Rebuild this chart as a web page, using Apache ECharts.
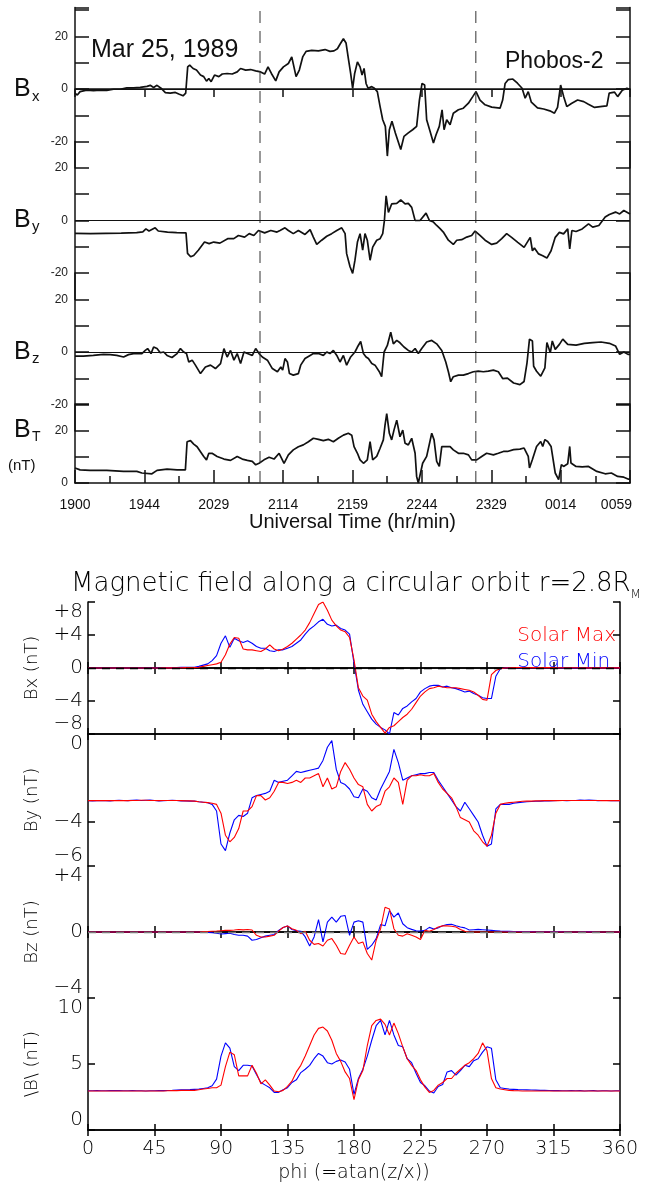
<!DOCTYPE html>
<html>
<head>
<meta charset="utf-8">
<title>Phobos-2 magnetic field / model along circular orbit</title>
<script src="https://cdn.jsdelivr.net/npm/echarts@6.0.0/dist/echarts.min.js"></script>
<style>
  html, body { margin: 0; padding: 0; background: #fff; }
  #main { width: 651px; height: 1188px; }
</style>
</head>
<body>
<div id="main"></div>
<script>
// ---------- top figure: Phobos-2 data, Mar 25 1989 (t = minutes after 19:00) ----------
var timeTicks = [0, 45, 90, 135, 180, 225, 270, 315, 360];
var timeLabels = ['1900', '1944', '2029', '2114', '2159', '2244', '2329', '0014', '0059'];

var bxObs = [[0,-1.6],[1.5,-2.3],[3.3,-1.0],[7.6,-0.4],[12,-0.6],[16.3,-0.4],[20.6,-0.5],[25,-0.1],[29.3,-0.1],
  [33.6,0.4],[38,0.4],[42.3,0.6],[46.7,1.0],[48.8,1.4],[51,0.6],[53.2,1.4],[55.8,0.3],[58.6,-1.4],[61.8,-1.6],
  [65.1,-1.3],[67.3,-1.9],[70.1,-2.6],[71.8,-1.6],[73.1,8.4],[74.4,9.1],[76.6,7.8],[78.8,7.2],[81.4,5.3],[83.5,4.7],
  [85.3,3.0],[86.8,4.0],[88.3,2.8],[90.5,5.3],[93.3,4.7],[95.5,5.7],[98.7,5.9],[102,5.7],[105.2,6.5],[107.4,7.8],
  [110.7,7.2],[113.9,7.4],[117.2,6.9],[120.4,6.5],[123,5.7],[125.2,8.4],[127.4,5.9],[130.2,3.1],[132.4,6.5],
  [135.2,8.4],[138.4,9.7],[140.6,12.2],[143.4,4.7],[145.5,7.2],[147.7,12.2],[149.9,14.3],[153.5,14.7],[157.9,14.5],
  [162.2,15],[165.4,14.3],[168,14.5],[170.2,15.3],[171.9,17],[174.1,19.1],[175.8,17.5],[177.5,10.9],[178.8,5.9],
  [180.1,0.2],[181.4,5.9],[183.2,10.3],[184.9,8.4],[186.2,5.3],[187.5,7.8],[188.8,2.1],[190.1,0.3],[192.5,0.9],
  [194.2,0.3],[196.1,-1.0],[197.9,-6.7],[199.6,-11.7],[201.3,-14.2],[202.6,-25.5],[203.9,-15.5],[205.6,-12.3],
  [207.8,-16.7],[211.3,-23],[213.4,-18],[216.2,-16.7],[219,-15.5],[221.6,-14.2],[223.4,-4.2],[225.1,2.1],[226.8,1.5],
  [228.1,-11.7],[230.3,-16.1],[232.5,-20.5],[234.2,-17.4],[236.3,-14.2],[238.1,-7.9],[239.4,-15.5],[241.1,-11.7],
  [243.3,-13.6],[245.4,-9.2],[248.7,-7.9],[251.9,-7.3],[255.2,-5.4],[258,-2.9],[260.1,-1.0],[262.7,-4.2],[266,-6],
  [270.3,-6.9],[275.7,-7.3],[277.4,-4.2],[279,2.1],[281.1,3.6],[284,3.8],[287,2.2],[290,0.3],[292,-3.5],[294,-1],
  [296,-5],[300,-7.2],[304,-7.6],[308,-8.3],[311,-9.2],[313,-7],[315,1.5],[317,-2.9],[319,-6.7],[322,-5.5],[326,-4.2],
  [330,-4.8],[333,-5.8],[337,-7],[342,-6.6],[345,-6.4],[346.5,-1.6],[350,-1.2],[352,-2.9],[355,-0.5],[358,0.3],[360,-0.2]];

var byObs = [[0,-4.9],[10,-5.0],[20,-4.9],[30,-4.8],[40,-4.6],[44,-4.3],[46,-3.2],[48,-4.0],[52,-2.8],[54,-4.0],
  [60,-4.4],[66,-4.6],[72,-4.7],[73,-12.5],[75,-13.8],[77,-13.3],[80,-11.3],[84,-8.2],[87,-8.8],[90,-8.2],[94,-8.6],
  [99,-6.9],[103,-6.9],[106,-5.7],[110,-6.3],[113,-5.0],[116,-5.7],[119,-3.8],[123,-4.7],[127,-3.8],[131,-4.4],
  [133,-3.8],[136.2,-2.8],[138.4,-3.8],[141.6,-5.0],[144.9,-3.8],[149.2,-5.3],[152.5,-3.5],[154.6,-6.3],[156.8,-9.1],
  [160,-7.5],[163.3,-6.0],[166.5,-5.0],[169.8,-3.8],[173,-2.8],[175.2,-5.0],[176.2,-12.6],[178.4,-17.6],[180.1,-20.1],
  [181.6,-15.1],[183.2,-8.2],[184.9,-5.0],[186.6,-11.3],[188.1,-5.0],[189.6,-7.5],[191.4,-15.1],[193.1,-10.1],
  [195.7,-7.5],[197.9,-6.9],[199.6,-5.0],[200.7,0],[201.8,9.4],[203.3,3.1],[205.4,6.3],[208.7,6.5],[211.3,7.8],
  [214.1,6.3],[216.2,6.5],[218.4,5.0],[220.6,0],[223.8,0],[227.7,2.8],[229.9,0],[232.5,-0.6],[234.6,-1.9],
  [236.8,-3.1],[238.9,-4.4],[242.2,-7.5],[245.4,-9.1],[247.6,-7.5],[250.8,-7.3],[254.1,-6.3],[257.3,-5.7],
  [259.5,-4.0],[262.7,-5.7],[266,-7.5],[270.3,-9.1],[273.5,-8.6],[276.8,-6.9],[280,-5.0],[283.2,-6.4],[287.2,-8.3],
  [291.3,-10.2],[295.3,-6.4],[296.7,-11.5],[298,-10.5],[300.7,-12.7],[303.4,-13.4],[306.1,-14.3],[308.8,-11.5],
  [311.5,-6.4],[314.2,-4.5],[316.9,-5.1],[319.6,-3.2],[320.9,-10.8],[322.3,-3.8],[325,-4.2],[329,-3.2],[333.1,-1.3],
  [335.8,-2.5],[339.8,-1.9],[343.9,1.3],[346.6,2.3],[350.6,3.2],[353.3,2.5],[356,3.8],[360,2.5]];

var bzObs = [[0,-1.6],[5.4,-1.6],[11.9,-1.3],[18.4,-0.9],[22.8,-1.0],[27.1,-1.3],[31.5,-1.9],[34.7,-1.0],[38,-0.6],
  [43.4,-0.6],[45.6,0.6],[47.1,1.3],[49.3,-0.6],[51,1.9],[53.2,1.3],[55.3,-0.3],[57.5,0],[59.7,-1.3],[62.9,-2.1],
  [66.2,-0.6],[68.4,1.3],[70.5,0],[72.3,-0.6],[73.8,-3.8],[76,-3.1],[78.1,-5],[81.4,-8.2],[84.6,-5.7],[87.9,-5],
  [91.1,-6.3],[94.4,-4.4],[96.6,1.3],[98.7,-1.9],[100.9,0.6],[103.1,-3.1],[105.2,-0.6],[107.4,-4.4],[109.6,0],
  [111.8,-0.6],[115,-1.3],[117.2,1.3],[119.4,-0.6],[121.5,-1.9],[124.8,-3.1],[128,-6.3],[131.3,-7.5],[133.5,-5.7],
  [134.7,-6.9],[136.2,-2.5],[137.8,-3.8],[139.1,-8.2],[141.6,-8.8],[144.9,-8.2],[146.4,-5.0],[149.2,-2.5],
  [152.5,-1.3],[154.6,-0.6],[157.9,-0.6],[161.1,-1.3],[163.3,0],[165.4,-0.6],[167.6,0.6],[169.8,-1.3],[171.9,-3.8],
  [174.1,-1.3],[176.2,-5.0],[178.8,-1.9],[181.6,0],[183.2,1.9],[185.3,4.0],[187.1,-0.6],[188.8,-1.9],[190.3,-2.5],
  [192.5,-4.4],[194.6,-5.0],[197.4,-7.5],[198.9,-9.4],[200.5,0],[202.6,2.5],[204.8,7.5],[206.5,3.1],[208.7,4.4],
  [210.8,3.5],[213.4,1.9],[216.2,0.6],[218.4,0],[220.6,1.3],[222.7,-0.6],[224.9,1.3],[228.1,3.8],[231.4,4.4],
  [234.6,3.1],[237.9,0.6],[238.9,0],[240.5,-3.8],[242.2,-7.5],[243.7,-11.3],[245.4,-9.4],[248.7,-8.8],[251.9,-8.8],
  [255.2,-8.2],[258.4,-7.5],[261.6,-7.3],[264.9,-7.5],[268.1,-7.3],[271.4,-6.9],[274.6,-7.5],[277.4,-10.1],
  [280.5,-9.9],[284.5,-11.8],[288.6,-12.4],[291.3,-11.2],[293.2,-4.1],[294.8,4.9],[296.7,4.2],[297.5,-5.4],
  [299.4,-7.3],[302.1,-9.2],[304.8,-6],[306.1,3.6],[308.3,-0.3],[309.6,4.2],[311.5,1.0],[314.2,2.9],[316.4,4.9],
  [319.6,2.9],[325,2.6],[330.4,3.3],[335.8,3.6],[341.2,3.8],[346.6,3.3],[350.6,2.3],[353.3,-0.9],[356,0],
  [358.7,-0.9],[360,-0.9]];

var btObs = [[0,5.7],[3.3,5.0],[9.8,4.8],[20.6,4.8],[31.5,4.4],[40.1,4.4],[43.4,3.8],[49.9,3.5],[53.2,4.8],[59.7,5.3],
  [66.2,5.0],[71.6,5.0],[72.7,15.7],[74.9,16.1],[77,14.8],[79.2,13.8],[81.4,11.9],[83.5,10.1],[85.3,8.8],[86.8,11.3],
  [88.9,11.3],[92.2,10.1],[96.6,9.1],[100.9,8.6],[105.2,10.1],[108.5,9.1],[111.8,8.6],[115,8.2],[117.2,6.9],
  [119.4,7.5],[122.6,8.8],[125.9,9.8],[129.1,9.1],[132.4,11.3],[135.6,7.5],[138.4,10.7],[141.6,12.6],[144.9,13.8],
  [148.1,14.5],[151.4,15.7],[154.6,17],[157.9,16.6],[161.1,16.1],[164.3,16.6],[167.6,15.7],[170.8,17],[174.1,18.2],
  [177.3,18.9],[179.5,18.2],[181,13.8],[183.2,11.3],[184.9,8.8],[187.1,7.5],[189.6,8.8],[191.4,15.7],[193.1,8.8],
  [195.7,10.1],[197.9,13.2],[200,16.4],[201.1,22],[202.2,26.4],[203.9,18.9],[205.4,16.4],[206.9,20.1],[208.7,23.9],
  [210.8,17.6],[212.6,20.1],[214.1,15.1],[216.2,14.5],[218.4,17],[220.6,11.3],[221.6,2.5],[222.7,0],[223.8,0.6],
  [225.5,7.5],[228.1,10.1],[231.4,18.9],[232.9,16.4],[234.6,8.2],[236.3,6.3],[237.9,13.8],[240,13.8],[243.3,13.8],
  [245.4,12.6],[248.7,11.3],[251.9,11.3],[255.2,10.7],[257.3,8.8],[260.6,8.8],[263.8,10.1],[267,11.3],[271.4,10.7],
  [274.6,11.3],[277.9,12],[280.5,12],[284.5,12.7],[288.6,12.9],[291.3,13.3],[294,10.1],[294.8,5.7],[296.7,8.9],
  [299.4,13.9],[302.1,15.8],[303.4,13.9],[304.8,16.5],[306.6,15.8],[308.8,13.9],[311.5,3.8],[313.7,1.3],[315.5,7],
  [316.9,6.3],[319.6,7.3],[320.9,13.9],[321.7,7.6],[325,6.3],[329,6.1],[333.1,6.3],[338.5,4.4],[343.9,3.5],
  [347.9,3.8],[352,2.5],[356,2.2],[358.7,1.5],[360,1.5]];

// boundary crossings marked by the dashed verticals (min after 19:00)
var crossings = [120, 260];

// ---------- bottom figure: model along circular orbit r = 2.8 RM ----------
var phi = [0,3,6,9,12,15,18,21,24,27,
  30,33,36,39,42,45,48,51,54,57,
  60,63,66,69,72,75,78,81,84,87,
  90,93,96,99,102,105,108,111,114,117,
  120,123,126,129,132,135,138,141,144,147,
  150,153,156,159,162,165,168,171,174,177,
  180,183,186,189,192,195,198,201,204,207,
  210,213,216,219,222,225,228,231,234,237,
  240,243,246,249,252,255,258,261,264,267,
  270,273,276,279,282,285,288,291,294,297,
  300,303,306,309,312,315,318,321,324,327,
  330,333,336,339,342,345,348,351,354,357,
  360];

// Solar Min (blue) / Solar Max (red)
var bxMin = [0,0,0,0,0,0,0,0,0,0,
  0,0,0,0,0.02,0,0.02,0.03,0.05,0.05,
  0.06,0.08,0.08,0.1,0.1,0.2,0.35,0.5,0.9,1.5,
  3.0,3.9,2.5,3.6,3.3,3.1,3.3,3.0,2.6,2.4,
  2.4,2.1,2.0,2.2,2.2,2.4,2.6,3.0,3.4,4.1,
  4.7,5.1,5.6,5.9,5.3,5.1,5.2,4.8,4.6,4.1,
  0.6,-2.7,-4.4,-5.3,-6.2,-6.8,-7.2,-7.5,-8.0,-5.4,
  -5.7,-4.9,-4.6,-4.1,-3.7,-2.9,-2.5,-2.2,-2.1,-2.1,
  -2.3,-2.2,-2.4,-2.5,-2.7,-2.9,-2.8,-3.1,-3.3,-3.6,
  -3.7,-3.7,-1.0,-0.1,0,0.05,0.05,0.06,0.05,0.05,
  0.04,0.05,0.04,0.04,0.03,0.03,0.03,0.02,0.02,0.02,
  0.02,0.02,0.02,0.01,0.01,0.01,0.01,0.01,0.01,0.01,
  0.01];
var bxMax = [0,0,0,0,0,0,0,0,0,0,
  0,0,0,0,0,0,0,0.01,0.02,0.02,
  0.03,0.03,0.04,0.04,0.05,0.1,0.2,0.3,0.4,0.5,
  0.7,1.6,2.9,3.7,3.6,2.3,2.2,2.2,2.1,2.0,
  2.3,2.8,2.3,2.1,2.3,2.6,3.0,3.5,4.0,4.6,
  5.5,6.6,7.7,8.0,7.0,5.8,5.1,4.6,4.4,3.7,
  1.0,-2.4,-3.4,-3.9,-5.6,-6.5,-7.2,-7.9,-7.2,-7.0,
  -6.5,-6.0,-5.6,-5.0,-4.2,-3.4,-2.9,-2.5,-2.4,-2.2,
  -2.3,-2.4,-2.4,-2.4,-2.5,-2.6,-2.7,-2.9,-3.3,-3.8,
  -3.9,-0.8,-0.3,-0.1,0,0.03,0.05,0.06,0.06,0.05,
  0.05,0.05,0.04,0.04,0.04,0.04,0.03,0.03,0.03,0.03,
  0.03,0.03,0.02,0.02,0.02,0.02,0.02,0.02,0.02,0.02,
  0.02];

var byMin = [-3.03,-3.04,-3.03,-3.02,-3.03,-3.04,-3.02,-3.01,-3.02,-3.03,
  -3.01,-3.0,-3.02,-3.01,-3.0,-3.02,-3.04,-3.03,-3.02,-3.01,
  -3.02,-3.04,-3.04,-3.05,-3.05,-3.08,-3.1,-3.12,-3.2,-3.5,
  -5.0,-5.3,-4.5,-3.9,-3.7,-3.75,-3.6,-2.9,-2.8,-2.75,
  -2.7,-2.6,-2.1,-2.2,-2.15,-2.1,-1.9,-1.7,-1.75,-1.7,
  -1.65,-1.6,-1.55,-1.2,-0.6,-0.3,-1.6,-2.2,-2.3,-2.5,
  -2.85,-2.9,-2.5,-2.6,-2.9,-3.0,-2.5,-2.1,-1.7,-0.7,
  -1.3,-2.1,-2.0,-1.9,-1.85,-1.8,-1.8,-1.75,-1.75,-2.1,
  -2.4,-2.7,-3.0,-3.3,-3.5,-3.1,-3.4,-3.7,-4.0,-4.6,
  -5.1,-5.0,-3.4,-3.2,-3.2,-3.2,-3.15,-3.12,-3.1,-3.08,
  -3.07,-3.06,-3.05,-3.04,-3.04,-3.03,-3.02,-3.02,-3.03,-3.02,
  -3.02,-3.0,-3.01,-3.0,-3.01,-3.03,-3.02,-3.02,-3.03,-3.03,
  -3.03];
var byMax = [-3.03,-3.03,-3.03,-3.03,-3.02,-3.03,-3.03,-3.02,-3.03,-3.03,
  -3.02,-3.02,-3.01,-3.01,-3.02,-3.02,-3.03,-3.02,-3.02,-3.02,
  -3.02,-3.03,-3.04,-3.04,-3.05,-3.08,-3.1,-3.12,-3.15,-3.2,
  -3.6,-4.6,-4.9,-4.7,-4.3,-3.5,-3.5,-3.3,-2.8,-2.8,
  -3.0,-2.9,-2.6,-2.2,-2.2,-2.25,-2.2,-2.1,-2.2,-2.0,
  -2.0,-1.9,-1.8,-2.4,-2.0,-2.5,-2.4,-1.7,-1.3,-1.6,
  -2.0,-2.3,-2.4,-3.2,-3.5,-3.3,-3.2,-2.6,-2.4,-2.0,
  -2.2,-3.2,-2.1,-1.9,-1.9,-1.85,-1.9,-1.9,-1.8,-2.2,
  -2.5,-2.7,-2.9,-3.3,-3.8,-3.9,-4.0,-4.4,-4.6,-4.9,
  -5.1,-4.6,-3.6,-3.2,-3.15,-3.12,-3.1,-3.08,-3.06,-3.05,
  -3.05,-3.04,-3.04,-3.03,-3.03,-3.03,-3.03,-3.02,-3.02,-3.02,
  -3.02,-3.02,-3.02,-3.02,-3.02,-3.02,-3.03,-3.03,-3.03,-3.03,
  -3.03];

var bzMin = [0,0,0,0,0,0,0,0,0,0,
  0,0,0,0,0,0,0,0,0,0,
  0,0,0,0,0,0,0,-0.02,-0.05,-0.08,
  -0.12,-0.1,-0.08,-0.15,-0.2,-0.2,-0.25,-0.5,-0.45,-0.35,
  -0.25,-0.2,-0.15,0.1,0.27,0.37,0.15,0.08,0.05,-0.3,
  -0.85,-0.3,0.75,-0.6,0.6,0.9,0.6,0.95,1.0,-0.2,
  0.6,0.68,0.6,-1.05,-0.8,-0.4,0.45,0.38,1.3,0.9,
  1.15,0.5,0.26,0.16,0.07,0.06,0.1,0.28,0.18,0.25,
  0.38,0.45,0.47,0.38,0.3,0.25,0.12,0.14,0.16,0.14,
  0.12,0.1,0.08,0.06,0.05,0.04,0.03,0.03,0.02,0.02,
  0.02,0.01,0.01,0.01,0.01,0.02,0.02,0.01,0.01,0,
  0,0.01,0.01,0.02,0.01,0,0,0,0,0,
  0];
var bzMax = [0,0,0,0,0,0,0,0,0,0,
  0,0,0,0,0,0,0,0,0,0,
  0,0,0,0,0,0,0.02,0.03,0.05,0.06,
  0.08,0.1,0.1,0.12,0.15,0.13,0.15,0.12,-0.2,-0.3,
  -0.3,-0.25,-0.2,0.05,0.27,0.37,0.2,0.1,-0.1,0.05,
  -0.5,-0.75,-0.7,-0.85,-0.5,-0.4,-0.8,-1.3,-1.35,-0.8,
  -0.3,-0.7,-0.6,-1.3,-1.7,-0.5,0.2,1.5,1.4,0.2,
  -0.2,-0.25,-0.1,-0.2,-0.3,-0.45,0.1,0.05,0.15,0.3,
  0.37,0.37,0.35,0.3,0.15,0.05,0,0,0,0,
  0,0,0,0,0,0,0,0,0,0,
  0,0,0,0,0,0,0,0,0,0,
  0,0,0,0,0,0,0,0,0,0,
  0];

var bMin = [2.97,2.97,2.98,2.97,2.97,2.98,2.99,2.98,2.97,2.97,
  2.98,2.97,2.97,2.96,2.97,2.97,2.98,2.98,2.99,3.0,
  3.02,3.04,3.05,3.06,3.08,3.1,3.15,3.2,3.35,3.85,
  5.6,6.6,6.2,4.8,4.5,4.9,4.9,4.85,4.2,3.6,
  3.4,3.2,2.85,2.85,3.05,3.2,3.6,3.8,4.35,4.6,
  4.9,5.4,5.8,5.6,5.1,5.0,5.2,5.3,5.15,4.6,
  2.7,3.9,4.6,5.6,6.8,7.9,8.3,7.2,8.3,7.2,
  6.4,6.3,5.4,5.1,4.3,3.6,3.35,2.95,2.8,3.3,
  3.45,4.4,4.5,4.15,4.5,4.9,4.8,5.25,5.4,5.9,
  6.3,6.2,3.8,3.2,3.15,3.1,3.08,3.06,3.05,3.04,
  3.03,3.02,3.0,3.0,2.99,2.98,2.98,2.97,2.97,2.98,
  2.97,2.98,2.96,2.97,2.98,2.96,2.97,2.97,2.96,2.97,
  2.97];
var bMax = [2.95,2.95,2.95,2.95,2.95,2.95,2.95,2.95,2.95,2.95,
  2.95,2.95,2.95,2.95,2.95,2.95,2.96,2.96,2.97,2.98,
  2.98,3.0,3.0,3.0,3.0,3.05,3.1,3.15,3.2,3.2,
  3.4,4.8,5.9,5.7,4.1,4.1,4.1,4.9,4.3,3.5,
  3.8,3.4,2.95,2.9,3.0,3.3,3.7,4.4,4.9,5.6,
  6.4,7.2,7.7,7.8,7.5,6.8,5.8,5.2,4.4,3.9,
  2.3,3.8,4.5,6.4,7.9,8.3,8.4,8.0,7.2,8.1,
  7.3,6.3,5.4,4.9,4.5,3.8,3.25,2.85,3.0,3.4,
  3.6,3.9,3.9,4.3,4.6,4.9,5.1,5.4,5.8,6.6,
  6.0,3.9,3.2,3.1,3.05,3.0,2.98,2.97,2.96,2.96,
  2.95,2.95,2.95,2.95,2.95,2.95,2.95,2.95,2.95,2.95,
  2.95,2.95,2.95,2.95,2.95,2.95,2.95,2.95,2.95,2.95,
  2.95];

var TOP_FONT = '"Liberation Sans", Arial, sans-serif';
var BOT_FONT = '"DejaVu Sans", sans-serif';
var INK = '#111';

var myChart = echarts.init(document.getElementById('main'));

var grids = [], xAxes = [], yAxes = [], series = [];

////// top figure: four stacked panels (each +-30 nT, overlapping by 10 nT) in one frame //////
var UNIT = 2.63;            // px per nT
var TOP_EDGE = 89 - 31 * UNIT;
var topPanels = [
  { data: bxObs, zeroY: 89,    min: -30, max: 31, labels: [-20, 0, 20], zero: true },
  { data: byObs, zeroY: 220.5, min: -30, max: 30, labels: [-20, 0, 20], zero: true },
  { data: bzObs, zeroY: 352,   min: -30, max: 30, labels: [-20, 0, 20], zero: true },
  { data: btObs, zeroY: 483,   min: 0,   max: 30, labels: [0, 20],      zero: false }
];
var inkLine = { color: INK, width: 1.5 };
var btAxes = null;   // axis indices of the bottom (BT) panel, used to place the time labels

topPanels.forEach(function (p, i) {
  var g = grids.length;
  var first = i === 0, last = i === topPanels.length - 1;
  grids.push({ left: 75, right: 21, top: p.zeroY - p.max * UNIT, height: (p.max - p.min) * UNIT });

  var xi = xAxes.length;
  xAxes.push({
    type: 'value', gridIndex: g, min: 0, max: 360, interval: 45,
    position: first ? 'top' : 'bottom',
    show: first || last,
    axisLine: { show: true, lineStyle: inkLine },
    axisTick: { show: true, inside: true, length: first ? 8 : 13, lineStyle: inkLine },
    minorTick: { show: last, splitNumber: 2, length: 7, lineStyle: inkLine },
    splitLine: { show: false },
    axisLabel: { show: false }
  });

  var labels = p.labels;
  var yl = yAxes.length;
  ['left', 'right'].forEach(function (side) {
    yAxes.push({
      type: 'value', gridIndex: g, min: p.min, max: p.max, interval: 10, position: side,
      axisLine: { show: true, lineStyle: inkLine },
      axisTick: { show: true, inside: true, length: 14, lineStyle: inkLine },
      axisLabel: {
        show: side === 'left', margin: 7, color: '#222', fontSize: 12, fontFamily: TOP_FONT,
        formatter: function (v) { return labels.indexOf(v) >= 0 ? String(v) : ''; }
      },
      splitLine: { show: false }
    });
  });
  if (last) btAxes = { xAxisIndex: xi, yAxisIndex: yl };

  var s = {
    type: 'line', xAxisIndex: xi, yAxisIndex: yl, data: p.data,
    showSymbol: false, symbol: 'none', silent: true,
    lineStyle: { color: INK, width: 1.7 }
  };
  if (p.zero) {
    s.markLine = {
      silent: true, symbol: ['none', 'none'], label: { show: false }, animation: false,
      data: [{ yAxis: 0, lineStyle: { type: 'solid', color: INK, width: 1.2 } }]
    };
  }
  series.push(s);
});

// full-height frame (0..1 vertically) carrying the dashed boundary-crossing lines
(function () {
  var g = grids.length;
  grids.push({ left: 75, right: 21, top: TOP_EDGE, height: 483 - TOP_EDGE });
  var xi = xAxes.length;
  xAxes.push({ type: 'value', gridIndex: g, min: 0, max: 360, show: false });
  var yi = yAxes.length;
  yAxes.push({ type: 'value', gridIndex: g, min: 0, max: 1, show: false });
  crossings.forEach(function (t) {
    series.push({
      type: 'line', xAxisIndex: xi, yAxisIndex: yi, data: [[t, 0], [t, 1]],
      showSymbol: false, symbol: 'none', silent: true,
      lineStyle: { type: [12, 8], color: '#333', width: 1 }
    });
  });
})();

////// bottom figure: model, four boxed panels //////
var RED = '#ff0000', BLUE = '#0000ff';
function pairs(vals) {
  return phi.map(function (x, k) { return [x, vals[k]]; });
}
function fmtSigned(v) {
  if (v > 0) return '+' + v;
  if (v < 0) return '\u2212' + (-v);
  return '0';
}
function fmtPlain(v) { return String(v); }
function fmtNeg(v) { return v === 0 ? '0' : '\u2212' + v; }   // By frame axis runs 0..6 downward

var botPanels = [
  { min: -8, max: 8,  name: 'Bx (nT)',    blue: bxMin, red: bxMax, zero: '#000',
    frame: { min: -8, max: 8, interval: 4, inverse: false, fmt: fmtSigned, ticks: true } },
  { min: -6, max: 0,  name: 'By (nT)',    blue: byMin, red: byMax, zero: null,
    frame: { min: 0, max: 6, interval: 4, inverse: true, fmt: fmtNeg, ticks: true } },
  { min: -4, max: 4,  name: 'Bz (nT)',    blue: bzMin, red: bzMax, zero: '#777',
    frame: { min: -4, max: 4, interval: 4, inverse: false, fmt: fmtSigned, ticks: false } },
  { min: 0,  max: 10, name: '\\B\\ (nT)', blue: bMin,  red: bMax,  zero: null,
    frame: { min: 0, max: 10, interval: 5, inverse: false, fmt: fmtPlain, ticks: true } }
];
var frameLine = { color: '#000', width: 1.5 };

botPanels.forEach(function (p, i) {
  var g = grids.length;
  var last = i === botPanels.length - 1;
  grids.push({ left: 88, right: 31, top: 602 + 132 * i, height: 132 });

  var xi = xAxes.length;
  xAxes.push({
    type: 'value', gridIndex: g, min: 0, max: 360, interval: 45, position: 'bottom',
    axisLine: { show: true, lineStyle: frameLine },
    axisTick: { show: true, inside: true, length: 6, lineStyle: frameLine },
    splitLine: { show: false },
    axisLabel: { show: last, margin: 10, color: '#000', fontSize: 19, fontFamily: BOT_FONT, fontWeight: 300 },
    name: last ? 'phi (=atan(z/x))' : '',
    nameLocation: 'middle', nameGap: 34,
    nameTextStyle: { fontSize: 19, fontFamily: BOT_FONT, fontWeight: 300, color: '#000' }
  });
  xAxes.push({
    type: 'value', gridIndex: g, min: 0, max: 360, interval: 45, position: 'top',
    axisLine: { show: true, lineStyle: frameLine },
    axisTick: { show: true, inside: true, length: 6, lineStyle: frameLine },
    splitLine: { show: false },
    axisLabel: { show: false }
  });

  // data axis (hidden) + left/right frame axes carrying ticks and labels
  var yd = yAxes.length;
  yAxes.push({ type: 'value', gridIndex: g, min: p.min, max: p.max, show: false });
  var f = p.frame;
  ['left', 'right'].forEach(function (side) {
    yAxes.push({
      type: 'value', gridIndex: g, min: f.min, max: f.max, interval: f.interval, inverse: f.inverse,
      position: side,
      axisLine: { show: true, lineStyle: frameLine },
      axisTick: { show: f.ticks, inside: true, length: 7, lineStyle: frameLine },
      splitLine: { show: false },
      axisLabel: {
        show: side === 'left', margin: 5, color: '#000', fontSize: 20, fontFamily: BOT_FONT, fontWeight: 300,
        showMinLabel: true, showMaxLabel: true,
        verticalAlignMaxLabel: f.inverse ? 'bottom' : 'top',
        verticalAlignMinLabel: f.inverse ? 'top' : 'bottom',
        formatter: f.fmt
      },
      name: side === 'left' ? p.name : '', nameLocation: 'middle', nameGap: 47,
      nameTextStyle: { fontSize: 18, fontFamily: BOT_FONT, fontWeight: 300, color: '#000' }
    });
  });

  var blue = {
    type: 'line', name: 'Solar Min', xAxisIndex: xi, yAxisIndex: yd, data: pairs(p.blue),
    showSymbol: false, symbol: 'none', silent: true, color: BLUE,
    lineStyle: { color: BLUE, width: 1.1 }
  };
  if (p.zero) {
    blue.markLine = {
      silent: true, symbol: ['none', 'none'], label: { show: false }, animation: false,
      data: [{ yAxis: 0, lineStyle: { type: [8, 6], color: p.zero, width: 1.3 } }]
    };
  }
  series.push(blue);
  series.push({
    type: 'line', name: 'Solar Max', xAxisIndex: xi, yAxisIndex: yd, data: pairs(p.red),
    showSymbol: false, symbol: 'none', silent: true, color: RED,
    lineStyle: { color: RED, width: 1.1 }
  });
});

function topText(txt, x, y, size, align) {
  return {
    type: 'text', x: x, y: y, silent: true, z: 100,
    style: { text: txt, fill: INK, fontSize: size, fontFamily: TOP_FONT, align: align || 'left', verticalAlign: 'middle' }
  };
}

var graphics = [
  topText('B', 14, 89, 25), topText('x', 32, 97, 15),
  topText('B', 14, 220, 25), topText('y', 32, 227, 15),
  topText('B', 14, 352, 25), topText('z', 32, 359, 15),
  topText('B', 14, 430, 25), topText('T', 32, 437, 14),
  topText('(nT)', 8, 466, 15),
  topText('Mar 25, 1989', 91, 50, 25),
  topText('Phobos-2', 505, 62, 23),
  {
    type: 'text', x: 356, y: 586, silent: true,
    style: {
      text: '{a|Magnetic field along a circular orbit r=2.8R}{s|M}',
      align: 'center', verticalAlign: 'middle',
      rich: {
        a: { fontSize: 26, fontFamily: BOT_FONT, fontWeight: 300, fill: '#000', lineHeight: 27, verticalAlign: 'top' },
        s: { fontSize: 12, fontFamily: BOT_FONT, fontWeight: 300, fill: '#000', lineHeight: 29, verticalAlign: 'bottom' }
      }
    }
  }
];

myChart.setOption({
  animation: false,
  backgroundColor: '#fff',
  grid: grids,
  xAxis: xAxes,
  yAxis: yAxes,
  series: series,
  legend: {
    orient: 'vertical', right: 30, top: 621, icon: 'none', itemWidth: 0, itemHeight: 20, itemGap: 6,
    selectedMode: false,
    textStyle: { fontSize: 20, fontFamily: BOT_FONT, fontWeight: 300 },
    data: [
      { name: 'Solar Max', textStyle: { color: RED } },
      { name: 'Solar Min', textStyle: { color: BLUE } }
    ]
  },
  graphic: graphics
});

// time tick labels and axis title under the top frame, placed through the BT panel's own axes
var extra = timeTicks.map(function (t, k) {
  var pt = myChart.convertToPixel(btAxes, [t, 0]);
  var lastTick = k === timeTicks.length - 1;
  return topText(timeLabels[k], pt[0] + (lastTick ? 2 : 0), pt[1] + 22, 14, lastTick ? 'right' : 'center');
});
var mid = myChart.convertToPixel(btAxes, [180, 0]);
extra.push(topText('Universal Time (hr/min)', mid[0], mid[1] + 39, 20, 'center'));
myChart.setOption({ graphic: graphics.concat(extra) });
</script>
</body>
</html>
